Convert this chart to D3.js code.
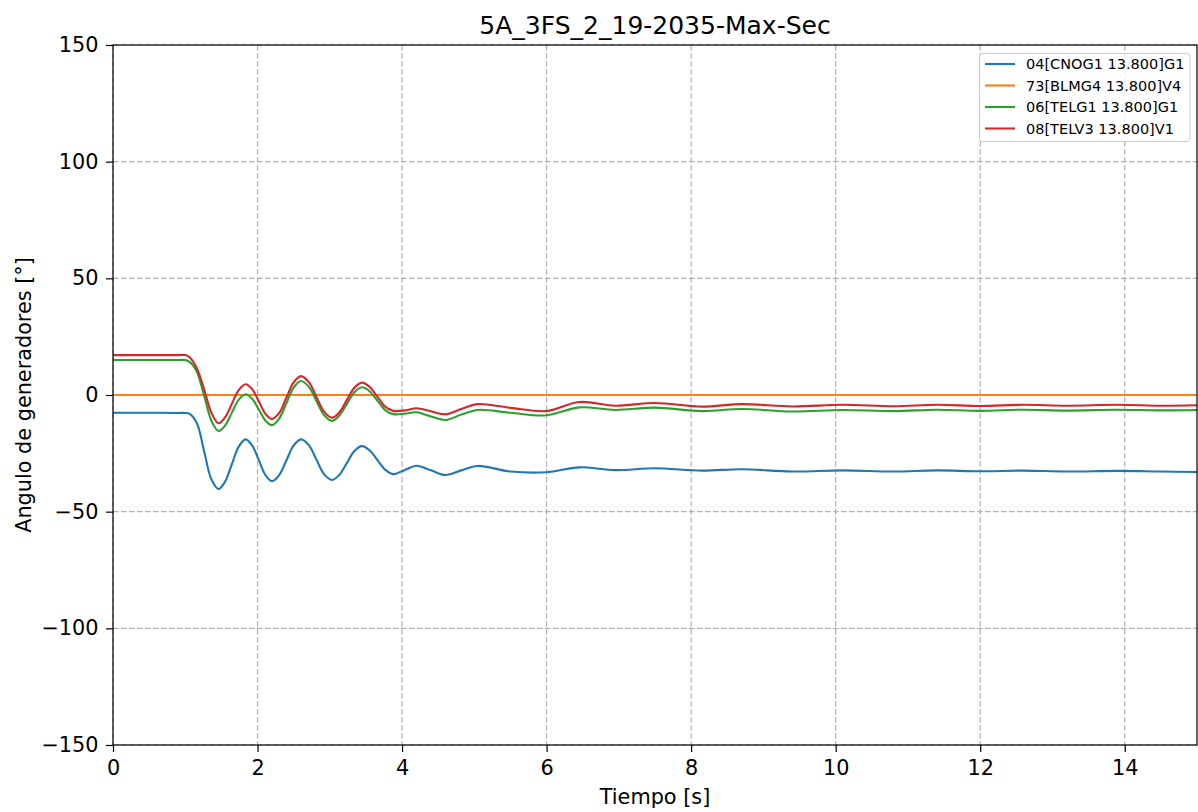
<!DOCTYPE html>
<html>
<head>
<meta charset="utf-8">
<script src="https://cdn.jsdelivr.net/npm/d3@7"></script>
<style>
  html, body { margin: 0; padding: 0; background: #fff; }
  svg { display: block; font-family: "DejaVu Sans", sans-serif; }
</style>
</head>
<body>
<svg id="chart" width="1198" height="812"></svg>
<script>
const title = "5A_3FS_2_19-2035-Max-Sec";
const xLabel = "Tiempo [s]";
const yLabel = "Angulo de generadores [°]";
const xTicks = [0, 2, 4, 6, 8, 10, 12, 14];
const yTicks = [-150, -100, -50, 0, 50, 100, 150];
const seriesNames = ["04[CNOG1 13.800]G1", "73[BLMG4 13.800]V4", "06[TELG1 13.800]G1", "08[TELV3 13.800]V1"];
const seriesColors = ["#1f77b4", "#ff7f0e", "#2ca02c", "#d62728"];

const time = [0, 0.5, 0.9, 1.0, 1.06, 1.16, 1.26, 1.36, 1.46, 1.55, 1.645, 1.74, 1.835, 1.925, 2.02, 2.11, 2.2, 2.3, 2.4, 2.5, 2.6, 2.71, 2.815, 2.92, 3.03, 3.13, 3.235, 3.34, 3.445, 3.55, 3.66, 3.77, 3.88, 4.04, 4.2, 4.4, 4.6, 4.82, 5.04, 5.5, 6.0, 6.45, 6.95, 7.5, 8.15, 8.7, 9.4, 10.1, 10.8, 11.4, 12.0, 12.6, 13.2, 13.9, 14.5, 15];
const cnog1 = [-7.6, -7.6, -7.7, -7.7, -8.1, -12, -24, -36, -40.3, -37.2, -29.6, -22.1, -19.0, -21.6, -28, -34.3, -36.9, -34.3, -28, -21.6, -19.0, -21.5, -27.7, -33.9, -36.4, -34.3, -29.2, -24, -21.9, -23.7, -27.9, -32.1, -33.9, -32.1, -30.3, -32.3, -34.3, -32.3, -30.4, -32.8, -33.1, -31.0, -32.2, -31.4, -32.4, -31.8, -32.8, -32.3, -32.8, -32.3, -32.7, -32.4, -32.8, -32.5, -32.8, -33.0];
const blmg4 = time.map(() => 0);
const telg1 = [15.0, 15.0, 15.0, 15.0, 14.2, 10.0, -0.2, -10.9, -15.4, -13.1, -7.55, -2.0, 0.3, -1.6, -6.3, -11.0, -12.9, -10.1, -3.45, 3.2, 6.0, 3.5, -2.55, -8.6, -11.1, -8.9, -3.9, 1.2, 3.3, 1.6, -2.5, -6.6, -8.2, -8.0, -7.4, -9.2, -10.7, -8.4, -6.4, -7.6, -8.7, -5.3, -6.4, -5.4, -6.9, -6.0, -7.1, -6.4, -6.9, -6.3, -6.8, -6.3, -6.7, -6.3, -6.6, -6.4];
const telv3 = [17.1, 17.1, 17.1, 17.1, 16.2, 11.5, 2.5, -7.5, -12.1, -9.6, -3.75, 2.1, 4.6, 2.5, -2.85, -8.1, -10.3, -7.7, -1.1, 5.4, 8.1, 5.5, -0.8, -7.1, -9.7, -7.5, -2.2, 3.1, 5.3, 3.5, -0.8, -5.1, -6.8, -6.6, -5.7, -7.0, -8.3, -6.0, -3.9, -5.5, -6.9, -3.0, -4.6, -3.4, -5.0, -3.9, -4.9, -4.2, -4.8, -4.2, -4.7, -4.2, -4.6, -4.2, -4.6, -4.4];
const seriesValues = [cnog1, blmg4, telg1, telv3];

const svg = d3.select("#chart");
const pL = 113, pR = 1197, pT = 45, pB = 745;
const x = d3.scaleLinear().domain([0, 15]).range([pL, pR]);
const y = d3.scaleLinear().domain([-150, 150]).range([pB, pT]);

// grid
const grid = svg.append("g");
xTicks.forEach(t => grid.append("line")
  .attr("x1", x(t)).attr("x2", x(t)).attr("y1", pT).attr("y2", pB)
  .attr("stroke", "#b0b0b0").attr("stroke-width", 1.2).attr("stroke-dasharray", "5.5,2.5"));
yTicks.forEach(t => grid.append("line")
  .attr("y1", y(t)).attr("y2", y(t)).attr("x1", pL).attr("x2", pR)
  .attr("stroke", "#b0b0b0").attr("stroke-width", 1.2).attr("stroke-dasharray", "5.5,2.5"));

// lines
svg.append("clipPath").attr("id", "clip").append("rect")
  .attr("x", pL).attr("y", pT).attr("width", pR - pL).attr("height", pB - pT);
const line = d3.line().x(d => x(d[0])).y(d => y(d[1])).curve(d3.curveCatmullRom.alpha(0.5));
seriesValues.forEach((vals, i) => {
  svg.append("path")
    .datum(time.map((t, j) => [t, vals[j]]))
    .attr("clip-path", "url(#clip)")
    .attr("fill", "none")
    .attr("stroke", seriesColors[i])
    .attr("stroke-width", 2.1)
    .attr("d", line);
});

// frame
svg.append("rect").attr("x", pL).attr("y", pT).attr("width", pR - pL).attr("height", pB - pT)
  .attr("fill", "none").attr("stroke", "#000").attr("stroke-width", 1.2);

// axes
const xAxis = svg.append("g").attr("transform", `translate(0,${pB})`)
  .call(d3.axisBottom(x).tickValues(xTicks).tickSize(7).tickPadding(8).tickFormat(d3.format("d")));
const yAxis = svg.append("g").attr("transform", `translate(${pL},0)`)
  .call(d3.axisLeft(y).tickValues(yTicks).tickSize(7).tickPadding(7.5).tickFormat(d3.format("d")));
[xAxis, yAxis].forEach(a => {
  a.select(".domain").remove();
  a.selectAll("text").attr("font-size", 20.8).attr("fill", "#000").attr("font-family", "DejaVu Sans");
  a.selectAll("line").attr("stroke", "#000").attr("stroke-width", 1.2);
});

// title & labels
svg.append("text").attr("x", (pL + pR) / 2).attr("y", 34).attr("text-anchor", "middle")
  .attr("font-size", 25).text(title);
svg.append("text").attr("x", (pL + pR) / 2).attr("y", 804).attr("text-anchor", "middle")
  .attr("font-size", 20.8).text(xLabel);
svg.append("text").attr("transform", `translate(31,${(pT + pB) / 2}) rotate(-90)`)
  .attr("text-anchor", "middle").attr("font-size", 20.8).text(yLabel);

// legend
const lg = svg.append("g");
lg.append("rect").attr("x", 979.5).attr("y", 53.5).attr("width", 210.5).attr("height", 88).attr("rx", 3)
  .attr("fill", "#fff").attr("fill-opacity", 0.8).attr("stroke", "#ccc").attr("stroke-width", 1);
seriesNames.forEach((n, i) => {
  const yy = 64 + i * 21.5;
  lg.append("line").attr("x1", 985).attr("x2", 1015).attr("y1", yy).attr("y2", yy)
    .attr("stroke", seriesColors[i]).attr("stroke-width", 2.1);
  lg.append("text").attr("x", 1026).attr("y", yy + 5.2).attr("font-size", 14.5).text(n);
});
</script>
</body>
</html>
